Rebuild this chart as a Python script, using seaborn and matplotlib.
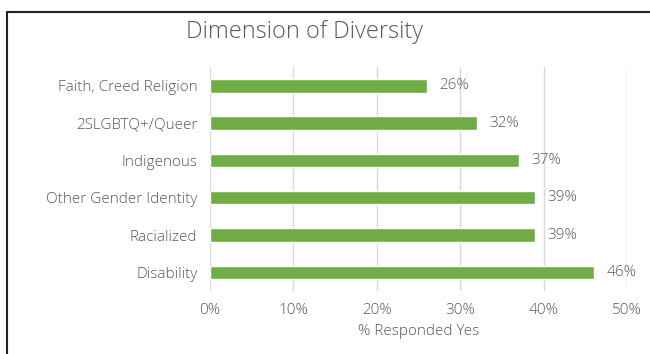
import matplotlib
matplotlib.use("Agg")
import matplotlib.pyplot as plt
import seaborn as sns
import pandas as pd
from matplotlib.lines import Line2D
from matplotlib.ticker import FuncFormatter

categories = ["Faith, Creed Religion", "2SLGBTQ+/Queer", "Indigenous",
              "Other Gender Identity", "Racialized", "Disability"]
values = [26, 32, 37, 39, 39, 46]
x_ticks = [0, 10, 20, 30, 40, 50]

df = pd.DataFrame({"category": categories, "value": values})

sns.set_theme(style="white")
plt.rcParams["font.family"] = ["Open Sans", "DejaVu Sans"]
plt.rcParams["font.weight"] = 300
text_color = "#595959"
fs = 11

fig = plt.figure(figsize=(6.5, 3.54), dpi=100)
ax = fig.add_axes([0.323, 0.178, 0.6416, 0.632])

sns.barplot(data=df, x="value", y="category", orient="h", color="#70AD47",
            saturation=1, width=0.36, ax=ax, zorder=3)

ax.set_xlim(0, 50)
ax.set_xticks(x_ticks)
ax.xaxis.set_major_formatter(FuncFormatter(lambda v, p: f"{v:.0f}%"))
ax.grid(axis="x", color="#D9D9D9", linewidth=1, zorder=0)
ax.grid(axis="y", visible=False)
for s in ax.spines.values():
    s.set_visible(False)
ax.tick_params(axis="both", length=0, colors=text_color, labelsize=fs)
ax.tick_params(axis="x", pad=9)
ax.tick_params(axis="y", pad=9)
ax.set_ylabel("")
ax.set_xlabel("% Responded Yes", color=text_color, fontsize=fs, labelpad=4,
              fontweight=300)

for c in ax.containers:
    ax.bar_label(c, labels=[f"{v}%" for v in values], padding=9,
                 color=text_color, fontsize=fs, fontweight=300)

fig.text(0.468, 0.91, "Dimension of Diversity", ha="center", va="center",
         color=text_color, fontsize=17, fontweight=300)

# outer frame of the chart area
fig.add_artist(Line2D([7/650, 7/650], [0, 1 - 12/354], transform=fig.transFigure,
                      color="#222222", linewidth=1.5))
fig.add_artist(Line2D([7/650, 1], [1 - 12/354, 1 - 12/354], transform=fig.transFigure,
                      color="#222222", linewidth=1.5))

fig.savefig("out.png", dpi=100, facecolor="white")
